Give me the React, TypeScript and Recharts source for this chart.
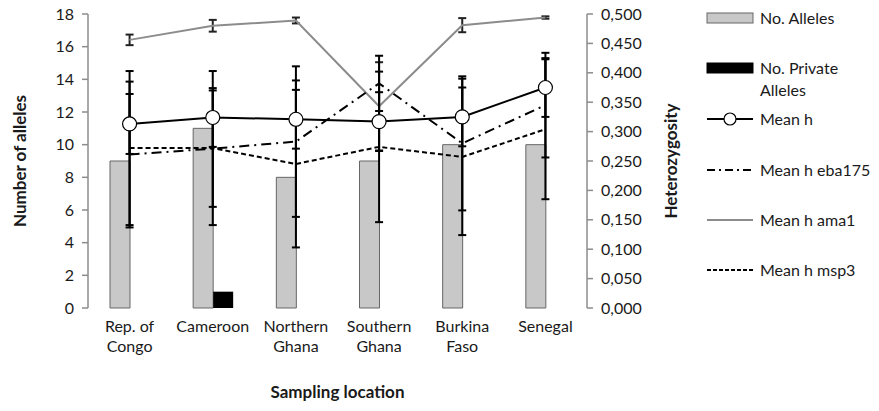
import React from "react";
import {
  Bar,
  ComposedChart,
  ErrorBar,
  Label,
  Line,
  XAxis,
  YAxis,
} from "recharts";

const categories = [
  "Rep. of\nCongo",
  "Cameroon",
  "Northern\nGhana",
  "Southern\nGhana",
  "Burkina\nFaso",
  "Senegal",
];
const alleles = [9, 11, 8, 9, 10, 10];
const privateAlleles = [0, 1, 0, 0, 0, 0];
const meanH = [0.313, 0.324, 0.321, 0.317, 0.325, 0.375];
const meanHErr = [0.051, 0.05, 0.05, 0.05, 0.05, 0.05];
const eba175 = [0.261, 0.271, 0.283, 0.382, 0.28, 0.345];
const eba175Err = [0.124, 0.099, 0.128, 0.047, 0.114, 0.089];
const ama1 = [0.456, 0.48, 0.489, 0.343, 0.481, 0.494];
const ama1Err = [0.009, 0.01, 0.005, 0.075, 0.012, 0.002];
const msp3 = [0.272, 0.272, 0.245, 0.274, 0.257, 0.304];
const msp3Err = [0.131, 0.131, 0.142, 0.128, 0.133, 0.119];

const leftTicks = [0, 2, 4, 6, 8, 10, 12, 14, 16, 18];
const rightTicks = [0, 0.05, 0.1, 0.15, 0.2, 0.25, 0.3, 0.35, 0.4, 0.45, 0.5];
const boundaryTicks = [0, 1, 2, 3, 4, 5, 6];

const data = categories.map((name, i) => ({
  name,
  alleles: alleles[i],
  privateAlleles: privateAlleles[i],
  meanH: meanH[i],
  meanHErr: meanHErr[i],
  eba175: eba175[i],
  eba175Err: eba175Err[i],
  ama1: ama1[i],
  ama1Err: ama1Err[i],
  msp3: msp3[i],
  msp3Err: msp3Err[i],
}));

const FONT = "Lato, 'Open Sans', sans-serif";
const TEXT = "#1a1a1a";
const AXIS = "#8c8c8c";

function CategoryTick({ x, y, payload }: any) {
  const lines = String(payload.value).split("\n");
  return (
    <text
      x={x}
      y={y + 24}
      textAnchor="middle"
      fill={TEXT}
      fontSize={16}
      fontFamily={FONT}
    >
      {lines.map((l, i) => (
        <tspan key={i} x={x} dy={i === 0 ? 0 : 20}>
          {l}
        </tspan>
      ))}
    </text>
  );
}

const legendItems = [
  { label: ["No. Alleles"], kind: "bar", color: "#c8c8c8", y: 18 },
  { label: ["No. Private", "Alleles"], kind: "bar", color: "#000", y: 68 },
  { label: ["Mean h"], kind: "mean", color: "#000", y: 119 },
  { label: ["Mean h eba175"], kind: "line", color: "#000", dash: "8 4 2 4", y: 170 },
  { label: ["Mean h ama1"], kind: "line", color: "#8c8c8c", y: 220 },
  { label: ["Mean h msp3"], kind: "line", color: "#000", dash: "4 2", y: 270 },
];

function ChartLegend() {
  return (
    <svg
      width={180}
      height={300}
      style={{ position: "absolute", left: 700, top: 0 }}
    >
      {legendItems.map((it, i) => (
        <g key={i}>
          {it.kind === "bar" && (
            <rect
              x={7}
              y={it.y - 5}
              width={46}
              height={10}
              fill={it.color}
              stroke={it.color === "#000" ? "#000" : "#666"}
            />
          )}
          {it.kind === "mean" && (
            <g>
              <line x1={7} x2={53} y1={it.y} y2={it.y} stroke="#000" strokeWidth={2} />
              <circle cx={30} cy={it.y} r={6} fill="#fff" stroke="#000" strokeWidth={1.2} />
            </g>
          )}
          {it.kind === "line" && (
            <line
              x1={7}
              x2={53}
              y1={it.y}
              y2={it.y}
              stroke={it.color}
              strokeWidth={2}
              strokeDasharray={it.dash}
            />
          )}
          <text
            x={60}
            y={it.y + 6}
            fill={TEXT}
            fontSize={16}
            fontFamily={FONT}
          >
            {it.label.map((l, j) => (
              <tspan key={j} x={60} dy={j === 0 ? 0 : 22}>
                {l}
              </tspan>
            ))}
          </text>
        </g>
      ))}
    </svg>
  );
}

export default function App() {
  const tickStyle = { fill: TEXT, fontSize: 16, fontFamily: FONT };
  return (
    <div style={{ position: "absolute", left: 0, top: 0, width: 879, height: 411, background: "#fff" }}>
      <ComposedChart
        width={879}
        height={411}
        data={data}
        margin={{ top: 14, right: 192, left: 0, bottom: 8 }}
        barGap={0}
      >
        <XAxis
          xAxisId="grid"
          type="number"
          domain={[0, 6]}
          ticks={boundaryTicks}
          allowDataOverflow
          tick={false}
          height={0}
          tickSize={6}
          axisLine={{ stroke: AXIS, strokeWidth: 1.5 }}
          tickLine={{ stroke: AXIS, strokeWidth: 1.5 }}
        />
        <XAxis
          xAxisId="cat"
          dataKey="name"
          height={95}
          axisLine={false}
          tickLine={false}
          tickSize={0}
          tickMargin={0}
          interval={0}
          tick={<CategoryTick />}
        >
          <Label
            value="Sampling location"
            position="insideBottom"
            offset={5}
            fill={TEXT}
            fontSize={17}
            fontWeight={700}
            fontFamily={FONT}
          />
        </XAxis>
        <YAxis
          yAxisId="left"
          width={88}
          domain={[0, 18]}
          ticks={leftTicks}
          interval={0}
          tick={tickStyle}
          tickSize={6}
          tickMargin={8}
          axisLine={{ stroke: AXIS, strokeWidth: 1.5 }}
          tickLine={{ stroke: AXIS, strokeWidth: 1.5 }}
        >
          <Label
            value="Number of alleles"
            angle={-90}
            position="insideLeft"
            offset={20}
            style={{ textAnchor: "middle" }}
            fill={TEXT}
            fontSize={17}
            fontWeight={700}
            fontFamily={FONT}
          />
        </YAxis>
        <YAxis
          yAxisId="right"
          orientation="right"
          width={100}
          domain={[0, 0.5]}
          ticks={rightTicks}
          interval={0}
          tick={tickStyle}
          tickSize={6}
          tickMargin={8}
          tickFormatter={(v: number) => v.toFixed(3).replace(".", ",")}
          axisLine={{ stroke: AXIS, strokeWidth: 1.5 }}
          tickLine={{ stroke: AXIS, strokeWidth: 1.5 }}
        >
          <Label
            value="Heterozygosity"
            angle={-90}
            position="insideRight"
            offset={16}
            style={{ textAnchor: "middle" }}
            fill={TEXT}
            fontSize={17}
            fontWeight={700}
            fontFamily={FONT}
          />
        </YAxis>
        <Bar
          xAxisId="cat"
          yAxisId="left"
          dataKey="alleles"
          barSize={20}
          fill="#c8c8c8"
          stroke="#666"
          strokeWidth={1}
          isAnimationActive={false}
        />
        <Bar
          xAxisId="cat"
          yAxisId="left"
          dataKey="privateAlleles"
          barSize={20}
          fill="#000"
          isAnimationActive={false}
        />
        <Line
          xAxisId="cat"
          yAxisId="right"
          dataKey="ama1"
          type="linear"
          stroke="#8c8c8c"
          strokeWidth={2}
          dot={false}
          activeDot={false}
          isAnimationActive={false}
        >
          <ErrorBar dataKey="ama1Err" width={4} strokeWidth={2} stroke="#222" direction="y" />
        </Line>
        <Line
          xAxisId="cat"
          yAxisId="right"
          dataKey="msp3"
          type="linear"
          stroke="#000"
          strokeWidth={2}
          strokeDasharray="5 3"
          dot={false}
          activeDot={false}
          isAnimationActive={false}
        >
          <ErrorBar dataKey="msp3Err" width={4} strokeWidth={2} stroke="#000" direction="y" />
        </Line>
        <Line
          xAxisId="cat"
          yAxisId="right"
          dataKey="eba175"
          type="linear"
          stroke="#000"
          strokeWidth={2}
          strokeDasharray="10 5 2 5"
          dot={false}
          activeDot={false}
          isAnimationActive={false}
        >
          <ErrorBar dataKey="eba175Err" width={4} strokeWidth={2} stroke="#000" direction="y" />
        </Line>
        <Line
          xAxisId="cat"
          yAxisId="right"
          dataKey="meanH"
          type="linear"
          stroke="#000"
          strokeWidth={2}
          dot={{ r: 7, fill: "#fff", stroke: "#000", strokeWidth: 1.2 }}
          activeDot={false}
          isAnimationActive={false}
        >
          <ErrorBar dataKey="meanHErr" width={4} strokeWidth={2} stroke="#000" direction="y" />
        </Line>
      </ComposedChart>
      <ChartLegend />
    </div>
  );
}
